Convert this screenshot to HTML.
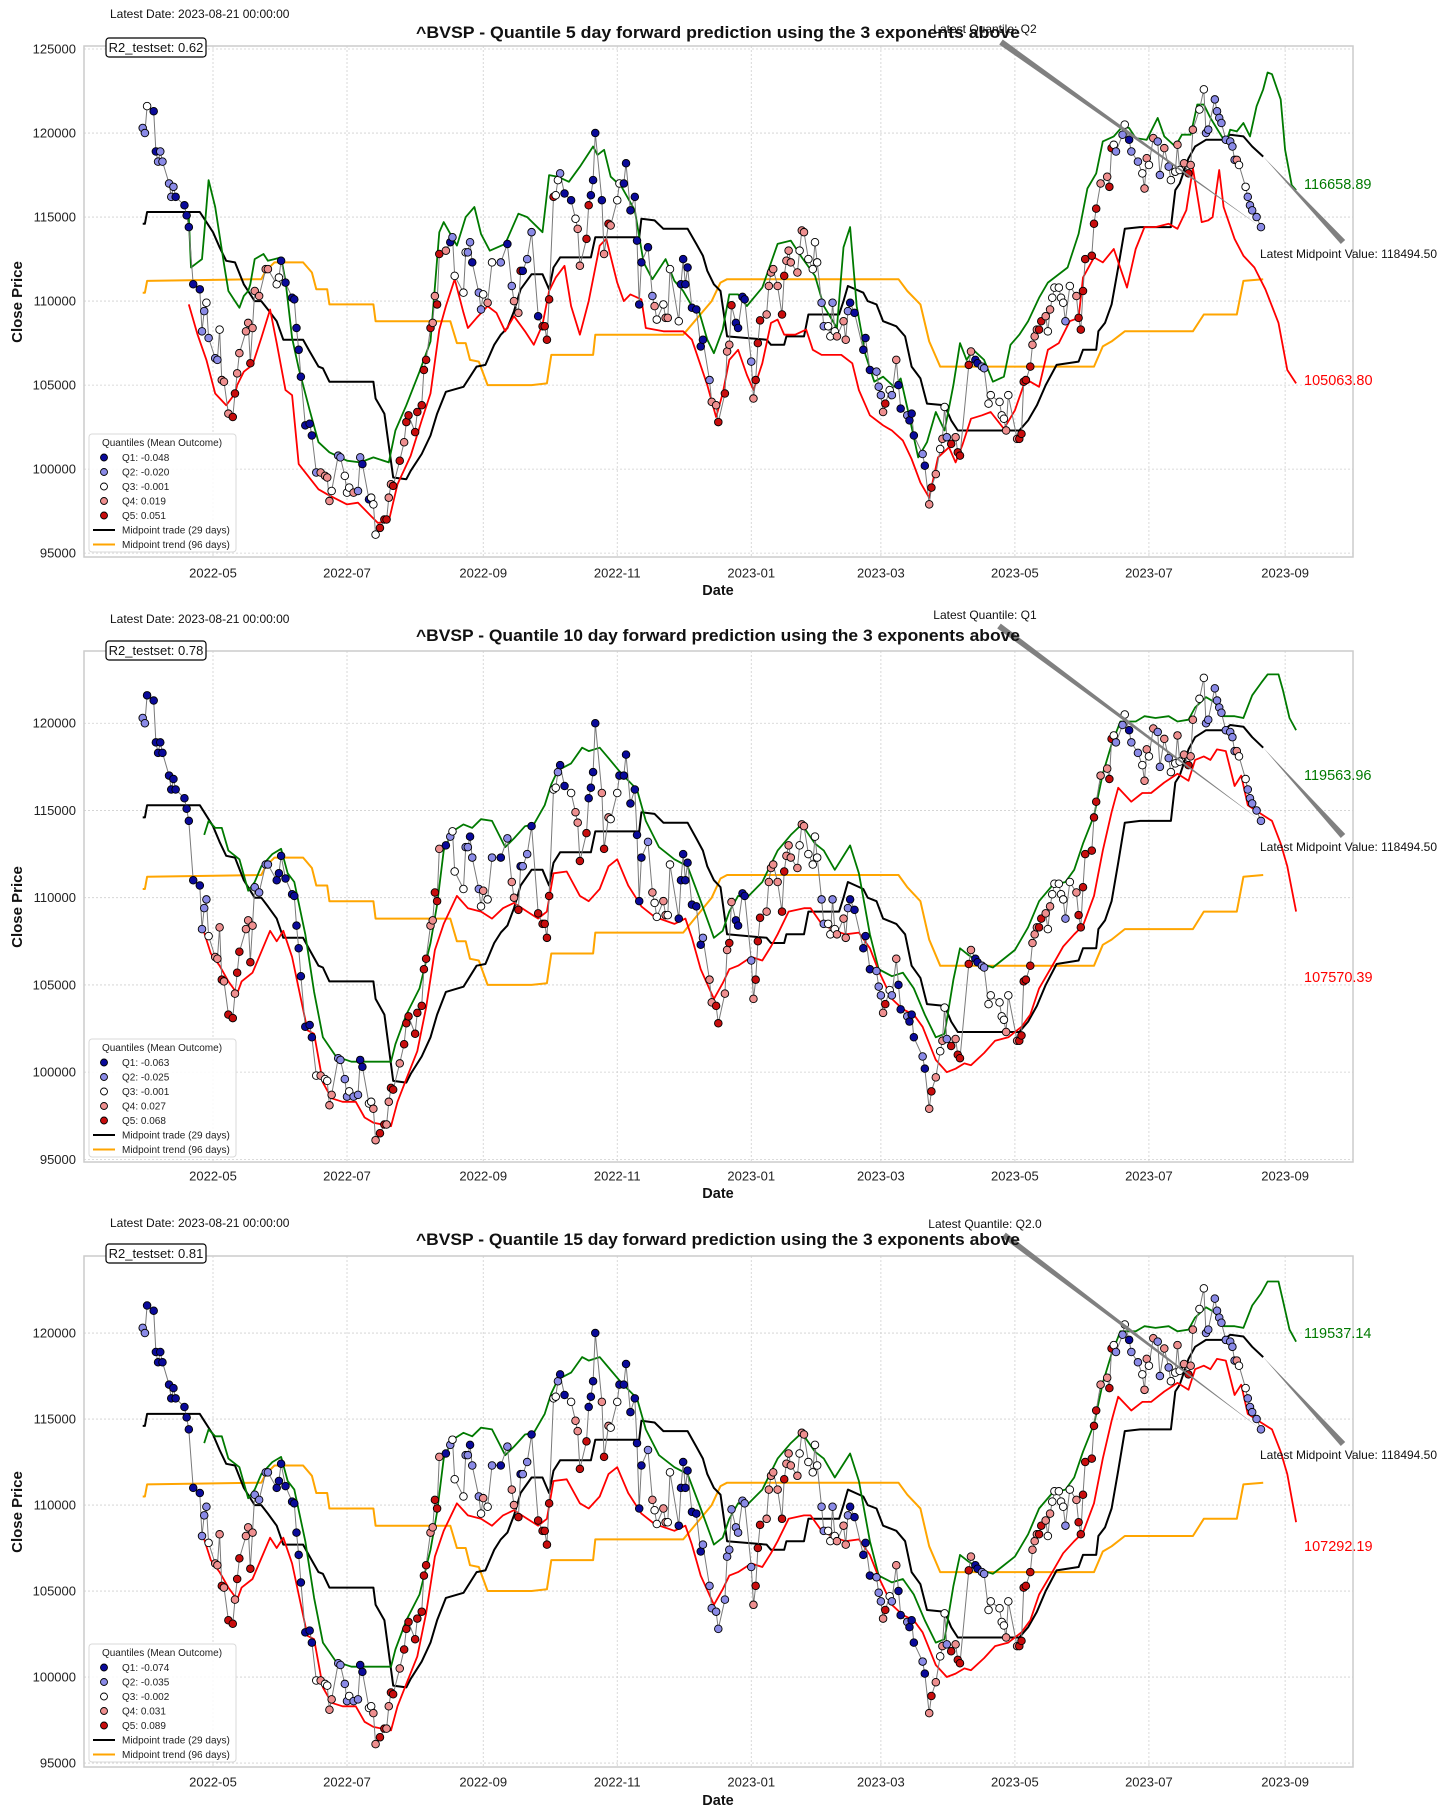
<!DOCTYPE html>
<html><head><meta charset="utf-8"><title>BVSP quantile forecasts</title>
<style>
html,body{margin:0;padding:0;background:#fff;}
svg{display:block;font-family:"Liberation Sans",Arial,sans-serif;}
</style></head>
<body>
<svg id="chart" width="1456" height="1820" viewBox="0 0 1456 1820" xmlns="http://www.w3.org/2000/svg"></svg>
<script>
// ---------- DATA (day offsets relative to 2022-05-01) ----------
const tickDays = [0,61,123,184,245,304,365,426,488];
const tickLabels = ["2022-05","2022-07","2022-09","2022-11","2023-01","2023-03","2023-05","2023-07","2023-09"];
const closeDays = [-32,-31,-30,-27,-26,-25,-24,-23,-20,-19,-18,-17,-13,-12,-11,-9,-6,-5,-4,-3,-2,1,2,3,4,5,7,9,10,11,12,15,16,17,18,19,21,24,25,29,30,31,33,36,37,38,39,40,42,44,45,47,49,51,52,53,54,57,58,60,61,62,64,66,67,68,71,72,73,74,76,78,79,80,81,82,85,87,88,89,92,93,95,96,97,99,100,101,102,103,106,108,109,110,114,115,116,117,118,121,122,123,125,127,131,134,136,137,139,140,141,143,145,148,150,151,152,153,155,156,157,158,160,163,165,166,167,170,171,172,173,174,177,178,180,181,184,185,187,188,190,192,193,194,195,198,200,201,202,205,206,207,208,212,213,214,215,216,218,220,222,223,226,227,229,230,233,234,235,
236,238,239,241,242,245,246,247,248,249,252,253,254,255,257,259,260,261,262,263,266,267,268,269,271,273,274,275,277,278,280,281,282,283,284,287,288,289,290,292,296,297,299,302,303,304,305,306,308,309,311,312,313,316,317,318,319,323,324,326,327,329,331,332,333,334,336,338,339,340,344,345,347,348,350,351,353,354,358,359,360,361,362,366,367,368,369,370,372,373,374,375,376,377,379,380,381,382,383,385,386,387,388,390,393,394,395,396,397,400,401,402,404,407,408,409,410,411,414,415,417,418,421,423,424,425,426,428,430,431,433,435,436,438,439,440,442,444,445,446,449,451,452,453,456,457,458,459,461,463,464,465,466,467,470,471,472,473,475,477];
const closeValues = [120300,120000,121600,121300,118900,118300,118900,118300,117000,116200,116800,116200,115700,115100,114400,111000,110700,108200,109400,109900,107800,106600,106500,108300,105300,105200,103300,103100,104500,105700,106900,108200,108700,106300,108400,110600,110300,111900,111900,111000,111400,112400,111100,110200,110100,108400,107100,105500,102600,102700,102000,99800,99800,99600,99500,98100,98700,100800,100700,99600,98600,98900,98600,98700,100700,100300,98200,98300,97900,96100,96500,97000,97000,98300,99100,99000,100500,101600,102800,103200,102200,103400,103800,105900,106500,108400,108700,110300,109800,112800,113000,113500,113800,111500,110500,112900,112900,113500,112300,110500,109500,110400,109900,112300,112300,113400,110900,110000,109300,111800,111800,112500,114100,109100,108500,108500,107700,110100,116200,116300,117200,117600,116400,116000,114900,114300,112100,113700,115700,116300,117200,120000,116000,112800,114600,114500,116000,117000,117000,118200,115400,116200,113600,109800,112300,113200,110300,109700,108900,109800,109000,109000,111900,108800,111000,112500,111000,112000,109600,109500,107300,107700,105300,104000,103800,102800,104500,107000,107400,
109750,108700,108400,110250,110100,106400,104200,105300,107500,108850,109200,110900,111700,111900,110900,109200,111500,112400,113000,112300,111700,113000,114200,114100,112500,111900,113500,112300,109900,108500,108500,107900,109900,108200,107900,108800,107700,109400,109900,109300,107100,107800,105900,105800,104900,104400,103400,103900,104700,104400,106500,105000,103600,103200,102900,103300,102000,100900,100200,97900,98900,99700,101200,101800,103700,101900,101500,101900,101000,100800,106200,107000,106500,106300,106100,106000,103900,104400,104000,103200,103000,102300,104400,101800,101800,102100,105200,105300,106100,107400,107900,108300,108300,108800,109100,108200,109500,110200,110800,110800,110200,109900,108800,110900,110300,109000,108300,110600,112500,112700,114600,115500,117000,117400,116800,119100,119300,118900,119900,120500,119600,118900,118300,117600,116700,118500,118100,119700,119500,117500,119100,118000,117200,117700,119300,117800,118200,117600,118100,120200,121400,122600,120000,120200,122000,121300,120900,120600,119600,119500,119200,118400,118400,118100,116800,116200,115700,115400,115000,114400];
const quantP1 = "22311222222111111223222344455444454444433111111111124444322333422113335554455455555555445541233322122343212445122155555332113445511114543311111111243344331111111124455445"+"1111245554444455444434433332233234442111112224532411211121454343254555411223333343455555444554343333323455555554455322312234434224233434544332222222222433222222";
const quantP2 = "22111111111111111222344454554554454222211111111111134334422223221133445544554555555554455412333221223432124451221555553321134455111145433111111112433443311111111244554454"+"1111245554444455444434433332233234442111112224532411211121454343254555411223333343455555444554343333323455555554455322312234434224233434544332222222222433222222";
const quantP3 = "22111111111111111222344454554554454222211111111111134334422223221133445544554555555554455412333221223432124451221555553321134455111145433111111112433443311111111222222222"+"2222245554444455444434433332233234442111112224532411211121454343254555411223333343455555444554343333323455555554455322312234434224233434544332222222222433222222";
const tradeDays = [-32,-31,-30,-6,-4,0,3,6,10,14,19,22,25,29,32,41,44,48,50,53,73,74,78,82,88,90,95,99,102,106,114,120,124,128,131,134,137,140,145,150,153,155,158,172,174,194,195,201,205,216,220,223,225,228,231,234,252,254,260,261,269,271,285,287,289,296,298,302,305,311,315,318,322,325,333,336,339,367,371,375,379,384,394,396,402,403,406,409,412,415,422,436,438,440,444,447,452,460,463,469,473,478];
const tradeValues = [114600,114600,115300,115300,114900,114100,113200,112400,112300,111000,110000,110000,109500,108800,107700,107700,107000,106100,106000,105200,105200,104200,103300,99500,99400,99900,100900,102000,103300,104600,104900,106100,106200,107400,108000,108400,109400,110700,111600,111600,110700,112000,112600,112600,113800,113800,114900,114800,114300,114300,113400,112700,111800,111000,110600,107900,107700,107400,107400,107900,107900,109200,109200,110000,110900,110500,110000,109800,108800,108500,107900,106100,105400,103900,103800,102900,102300,102300,102900,103800,105000,106200,106400,107100,107100,108200,108700,109800,112000,114300,114400,114400,116600,117000,118500,119200,119600,119600,119900,119800,119200,118600];
const trendDays = [-32,-31,-30,22,24,28,41,45,47,52,53,73,74,108,111,115,117,121,125,145,152,154,173,174,214,227,231,234,312,316,322,326,331,401,405,409,415,446,451,466,469,478];
const trendValues = [110500,110500,111200,111300,111800,112300,112300,111700,110700,110700,109800,109800,108800,108800,107500,107500,106500,106400,105000,105000,105100,106800,106800,108000,108000,110000,111100,111300,111300,110600,109800,107600,106100,106100,107300,107600,108200,108200,109200,109200,111200,111300];
const upDays1 = [-11,-10,-7,-5,-4,-2,1,5,7,10,12,14,16,17,19,23,25,28,31,33,36,39,44,48,53,61,67,73,80,83,88,94,99,103,105,111,115,119,122,126,133,139,143,150,153,157,162,167,173,175,178,181,186,192,196,200,206,210,214,218,221,225,228,232,235,239,243,250,257,263,268,274,278,284,287,290,293,297,301,305,310,313,317,321,325,329,333,337,340,343,346,351,355,360,363,367,371,376,380,389,394,398,402,405,410,414,417,420,425,430,433,438,441,445,448,451,454,461,463,466,469,472,475,478,480,482,486,488,491,493];
const upValues1 = [115000,112000,112300,112500,114000,117200,115600,112200,110600,110000,109600,110300,110600,111000,112500,112800,112400,112500,112600,111200,107800,106000,103500,101600,101000,100500,100400,100700,100400,102300,103800,105800,107600,114100,114700,113300,115000,115600,114000,113000,113400,115200,115000,114100,117500,117400,117100,118000,119200,118700,119000,117400,116800,115400,112300,111300,112500,111200,110600,109700,109500,107700,106900,108300,110400,110400,109700,110800,113400,113600,112600,111500,109700,108400,113200,114400,109700,106800,105200,105500,104900,105400,103100,100700,101600,103400,102300,105000,107500,106500,107100,106500,105200,105500,107400,108000,108800,110200,111100,112000,114000,116700,117600,119500,119800,120400,120300,119700,119600,120900,119800,119200,119900,119900,121700,121700,120900,119400,120200,120100,120600,119800,121600,122600,123600,123500,122000,119000,116900,116600];
const lowDays1 = [-11,-7,-3,1,6,10,11,14,18,22,26,29,33,36,39,48,52,61,66,72,75,80,84,90,95,99,103,106,110,114,116,120,125,129,133,137,142,146,150,153,156,160,163,167,171,176,179,184,187,190,195,197,205,214,218,225,229,232,235,239,243,246,250,254,257,260,265,270,273,277,286,291,294,299,305,309,314,318,322,326,330,335,338,341,345,350,354,360,365,369,372,376,380,385,390,394,396,401,405,410,416,420,424,429,435,439,443,446,450,453,455,458,460,465,469,474,479,485,489,493];
const lowValues1 = [109800,108000,106500,104500,103800,104500,105000,105800,106200,107800,109500,107500,104700,104400,100300,98800,98500,97900,98000,97200,96800,96900,99100,100800,102900,104500,108300,109700,111300,109300,108400,109000,109700,109300,108200,109100,108200,107400,108600,110600,111400,112100,109700,108000,110000,113300,113700,111100,110000,110400,110100,108400,108200,108200,107700,105000,103100,104500,106500,107100,105600,104700,106300,108700,108900,108000,108000,108300,107100,106800,106800,106300,104700,103200,102600,102300,101700,100600,99200,98300,100700,101300,100400,101400,103000,103200,103400,102400,103500,105000,105200,104900,107100,107500,108800,109000,111400,112600,112300,113100,110800,113100,114400,114400,114600,114300,115400,117900,114700,114800,115000,117800,115600,113700,112700,112000,110700,108700,105900,105100];
const upDays2 = [-4,-2,1,4,7,12,16,19,22,27,31,34,37,42,46,50,56,63,71,81,83,88,94,99,102,105,109,114,118,122,127,133,137,142,146,151,154,157,163,168,171,176,180,186,193,197,203,210,216,222,228,232,235,239,243,250,257,263,268,274,278,283,290,294,299,303,309,314,319,324,329,333,337,340,344,350,355,359,365,371,376,382,388,392,396,401,405,409,413,420,424,429,435,439,444,447,452,456,460,465,469,473,477,480,485,487,490,493];
const upValues2 = [113600,114400,114000,114000,112700,112200,110400,110900,111800,112500,112800,111400,110900,107900,104600,102000,100900,100600,100600,100600,101600,103300,104800,107400,109600,112700,113800,114200,114000,114500,114400,112900,113400,114100,114200,115300,116500,117300,117700,118600,118400,118600,118000,117100,116200,114400,112900,112200,111800,109800,107700,108100,109200,110100,110000,110900,112700,113600,114200,113100,112700,111600,113000,111400,107900,105900,105500,105700,104800,103300,102000,102200,105300,107100,106700,106200,106000,106400,107000,108300,109800,110700,110900,111600,113100,114700,117100,118800,120100,120100,120400,120300,120400,120100,120200,120900,121500,121200,120400,120400,120300,121600,122300,122800,122800,121900,120300,119600];
const lowDays2 = [-4,-1,3,7,11,13,18,22,26,29,32,36,39,43,46,50,54,59,65,69,73,81,84,88,93,97,101,105,111,116,122,127,132,137,143,148,152,155,161,167,171,176,180,184,189,195,201,210,215,218,222,228,232,235,239,245,250,254,257,262,269,272,277,283,288,294,299,303,309,314,319,323,329,334,338,342,345,351,356,362,368,372,376,382,387,392,396,401,405,409,412,418,423,427,433,439,444,447,451,454,457,461,465,468,471,477,482,486,489,493];
const lowValues2 = [108000,106800,106100,105200,104500,105200,105700,106900,108100,107500,108100,106600,104800,102400,102200,99400,98500,98300,98300,97400,97100,96900,98300,99600,101200,103700,107000,108500,110100,109400,109200,108800,109400,109700,109200,108800,109200,111400,111500,110100,109800,110500,111800,112200,110700,109500,108900,108500,108800,107700,105900,104200,105100,105900,106100,106600,106400,107200,107900,109200,109400,109400,108500,108100,107900,108000,107100,105800,104200,103600,103300,102600,100700,100000,100200,100500,100400,101100,101800,102000,102600,103300,104800,106100,107200,107900,108400,110100,112700,114900,116300,115500,116000,116000,116600,117100,116700,117900,118100,117900,118500,118400,116400,117000,115300,114800,114400,113100,111800,109200,107700];
const upDays3 = upDays2.slice();
const upValues3 = [113600,114400,114000,114000,112700,112200,110400,110900,111800,112500,112800,111400,110900,107900,104600,102000,100900,100600,100600,100600,101600,103300,104800,107400,109600,112700,113800,114200,114000,114500,114400,112900,113400,114100,114200,115300,116500,117300,117700,118600,118400,118600,118000,117100,116200,114400,112900,112200,111800,109800,107700,108100,109200,110100,110000,110900,112700,113600,114200,113100,112700,111600,113000,111400,107900,105900,105500,105700,104800,103300,102000,102200,105300,107100,106700,106200,106000,106400,107000,108300,109800,110700,110900,111600,113100,114700,117100,118800,120100,120100,120400,120300,120400,120100,120200,120900,121500,121200,120400,120400,120300,121600,122300,123000,123000,121900,120200,119500];
const lowDays3 = lowDays2.slice();
const lowValues3 = [108000,106800,106100,105200,104500,105200,105700,106900,108100,107500,108100,106600,104800,102400,102200,99400,98500,98300,98300,97400,97100,96900,98300,99600,101200,103700,107000,108500,110100,109400,109200,108800,109400,109700,109200,108800,109200,111400,111500,110100,109800,110500,111800,112200,110700,109500,108900,108500,108800,107700,105900,104200,105100,105900,106100,106600,106400,107200,107900,109200,109400,109400,108500,108100,107900,108000,107100,105800,104200,103600,103300,102600,100700,100000,100200,100500,100400,101100,101800,102000,102600,103300,104800,106100,107200,107900,108400,110100,112700,114900,116300,115500,116000,116000,116600,117100,116700,117900,118100,117900,118500,118400,116400,117000,115300,114800,114400,113100,111800,109000,107400];
const panelTitles = ["^BVSP - Quantile 5 day forward prediction using the 3 exponents above","^BVSP - Quantile 10 day forward prediction using the 3 exponents above","^BVSP - Quantile 15 day forward prediction using the 3 exponents above"];
const r2Values = ["0.62","0.78","0.81"];
const latestQuantiles = ["Q2","Q1","Q2.0"];
const upperLabels = ["116658.89","119563.96","119537.14"];
const lowerLabels = ["105063.80","107570.39","107292.19"];
const legendOutcomes1 = ["-0.048","-0.020","-0.001","0.019","0.051"];
const legendOutcomes2 = ["-0.063","-0.025","-0.001","0.027","0.068"];
const legendOutcomes3 = ["-0.074","-0.035","-0.002","0.031","0.089"];
const yTicks1 = [95000,100000,105000,110000,115000,120000,125000];
const yTicks2 = [95000,100000,105000,110000,115000,120000];
const midpointValue = "118494.50";

// ---------- LAYOUT ----------
const NS = "http://www.w3.org/2000/svg";
const svg = document.getElementById("chart");
const PL = 84, PR = 1353, PT = 46, PB = 557;
const qColors = {"1":"#0a0a9a","2":"#8a8ae6","3":"#ffffff","4":"#ee8f8f","5":"#c80d0d"};
function xs(d){ return 213 + d * 2.197; }
function mk(tag, attrs, parent){ const e = document.createElementNS(NS, tag); for (const k in attrs) e.setAttribute(k, attrs[k]); parent.appendChild(e); return e; }

const panels = [
  {off:0, ylim:[94770,125180], yTicks:yTicks1, up:[upDays1,upValues1], low:[lowDays1,lowValues1], q:quantP1, leg:legendOutcomes1, upLab:184, lowLab:380, midLab:254, qText:29, qStart:[1001,42], mStart:[1343,242], dateY:14, titleY:32, r2Y:38, tickY:573, xlabY:590},
  {off:605, ylim:[94850,124140], yTicks:yTicks2, up:[upDays2,upValues2], low:[lowDays2,lowValues2], q:quantP2, leg:legendOutcomes2, upLab:170, lowLab:372, midLab:242, qText:10, qStart:[999,21], mStart:[1343,231], dateY:14, titleY:30, r2Y:36, tickY:571, xlabY:588},
  {off:1210, ylim:[94770,124480], yTicks:yTicks2, up:[upDays3,upValues3], low:[lowDays3,lowValues3], q:quantP3, leg:legendOutcomes3, upLab:123, lowLab:336, midLab:245, qText:14, qStart:[1004,25], mStart:[1343,234], dateY:13, titleY:29, r2Y:34, tickY:572, xlabY:590}
];

function wedge(g, x0, y0, x1, y1, w){
  const dx = x1-x0, dy = y1-y0, L = Math.hypot(dx,dy), nx = -dy/L*w/2, ny = dx/L*w/2;
  const p = mk("polygon", {points:`${x0+nx},${y0+ny} ${x0-nx},${y0-ny} ${x1},${y1}`, fill:"#808080"}, g);
  return p;
}

panels.forEach((P, pi) => {
  const g = mk("g", {transform:`translate(0,${P.off})`}, svg);
  
  
  const ys = v => PB - (v - P.ylim[0]) / (P.ylim[1] - P.ylim[0]) * (PB - PT);

  // grid
  P.yTicks.forEach(t => {
    const l = mk("line", {x1:PL, x2:PR, y1:ys(t), y2:ys(t), stroke:"#cfcfcf", "stroke-width":0.8, "stroke-dasharray":"2,2"}, g);
    
    
    const tx = mk("text", {x:76, y:ys(t)+4.5, "text-anchor":"end", "font-size":13, fill:"#222"}, g);
    tx.textContent = t;
    
    
  });
  tickDays.forEach((d, i) => {
    const l = mk("line", {x1:xs(d), x2:xs(d), y1:PT, y2:PB, stroke:"#cfcfcf", "stroke-width":0.8, "stroke-dasharray":"2,2"}, g);
    
    
    const tx = mk("text", {x:xs(d), y:P.tickY+4.5, "text-anchor":"middle", "font-size":13, fill:"#222"}, g);
    tx.textContent = tickLabels[i];
    
    
  });
  const frame = mk("rect", {x:PL, y:PT, width:PR-PL, height:PB-PT, fill:"none", stroke:"#cccccc", "stroke-width":1.5}, g);
  
  

  function line(days, vals, color, w, name){
    const pts = days.map((d,i) => xs(d).toFixed(1) + "," + ys(vals[i]).toFixed(1)).join(" ");
    const pl = mk("polyline", {points:pts, fill:"none", stroke:color, "stroke-width":w, "stroke-linejoin":"round"}, g);
    
    
  }
  line(trendDays, trendValues, "#ffa500", 2, "midpoint-trend-line");
  line(tradeDays, tradeValues, "#000000", 2, "midpoint-trade-line");
  line(P.up[0], P.up[1], "#007a00", 1.8, "upper-forecast-line");
  line(P.low[0], P.low[1], "#ff0000", 1.8, "lower-forecast-line");
  line(closeDays, closeValues, "#7a7a7a", 1, "close-price-line");

  closeDays.forEach((d, i) => {
    const c = mk("circle", {cx:xs(d), cy:ys(closeValues[i]), r:3.8, fill:qColors[P.q[i]] || "#8a8ae6", stroke:"#000", "stroke-width":0.9}, g);
    
    
  });

  // annotations
  const lastX = xs(closeDays[closeDays.length-1]), lastY = ys(closeValues[closeValues.length-1]);
  const w1 = wedge(g, P.qStart[0], P.qStart[1], lastX, lastY, 6);
  
  
  const mX = xs(tradeDays[tradeDays.length-1]), mY = ys(tradeValues[tradeValues.length-1]);
  const w2 = wedge(g, P.mStart[0], P.mStart[1], mX, mY, 6);
  
  

  const t1 = mk("text", {x:1304, y:P.upLab+5, "font-size":14.5, fill:"#007a00"}, g);
  t1.textContent = upperLabels[pi];
  
  
  const t2 = mk("text", {x:1304, y:P.lowLab+5, "font-size":14.5, fill:"#ff0000"}, g);
  t2.textContent = lowerLabels[pi];
  
  
  const t3 = mk("text", {x:1260, y:P.midLab+4, "font-size":12, fill:"#111"}, g);
  t3.textContent = "Latest Midpoint Value: " + midpointValue;
  
  
  const t4 = mk("text", {x:985, y:P.qText+4, "font-size":12, fill:"#111", "text-anchor":"middle"}, g);
  t4.textContent = "Latest Quantile: " + latestQuantiles[pi];
  
  

  const title = mk("text", {x:718, y:P.titleY+6, "font-size":16.5, "font-weight":"bold", "text-anchor":"middle", fill:"#111", textLength:604, lengthAdjust:"spacingAndGlyphs"}, g);
  title.textContent = panelTitles[pi];
  
  
  const ld = mk("text", {x:110, y:P.dateY+4, "font-size":12, fill:"#111"}, g);
  ld.textContent = "Latest Date: 2023-08-21 00:00:00";
  
  
  const r2b = mk("rect", {x:106, y:P.r2Y, width:100, height:19, rx:3, fill:"#fff", stroke:"#000", "stroke-width":1.2}, g);
  
  
  const r2t = mk("text", {x:156, y:P.r2Y+14, "font-size":13, fill:"#111", "text-anchor":"middle"}, g);
  r2t.textContent = "R2_testset: " + r2Values[pi];
  
  

  const xl = mk("text", {x:718, y:P.xlabY+5, "font-size":14.5, "font-weight":"bold", "text-anchor":"middle", fill:"#111"}, g);
  xl.textContent = "Date";
  
  
  const yl = mk("text", {x:0, y:0, "font-size":15, "font-weight":"bold", "text-anchor":"middle", fill:"#111", transform:"translate(22,302) rotate(-90)"}, g);
  yl.textContent = "Close Price";
  
  

  // legend
  const lg = mk("g", {}, g);
  
  
  mk("rect", {x:89, y:434, width:147, height:118, rx:3, fill:"#fff", "fill-opacity":0.85, stroke:"#d8d8d8"}, lg);
  const lt = mk("text", {x:162, y:446, "font-size":10, "text-anchor":"middle", fill:"#222"}, lg);
  lt.textContent = "Quantiles (Mean Outcome)";
  
  
  ["1","2","3","4","5"].forEach((q, i) => {
    const yy = 461 + i * 14.5;
    const c = mk("circle", {cx:104, cy:yy-3.5, r:3.5, fill:qColors[q], stroke:"#000", "stroke-width":0.9}, lg);
    
    
    const t = mk("text", {x:122, y:yy, "font-size":10, fill:"#222"}, lg);
    t.textContent = "Q" + q + ": " + P.leg[i];
    
    
  });
  [["#000","Midpoint trade (29 days)"],["#ffa500","Midpoint trend (96 days)"]].forEach((e, i) => {
    const yy = 533.5 + i * 14.5;
    const l = mk("line", {x1:93, x2:115, y1:yy-3.5, y2:yy-3.5, stroke:e[0], "stroke-width":2}, lg);
    
    
    const t = mk("text", {x:122, y:yy, "font-size":10, fill:"#222"}, lg);
    t.textContent = e[1];
    
    
  });
});
</script>
</body></html>
